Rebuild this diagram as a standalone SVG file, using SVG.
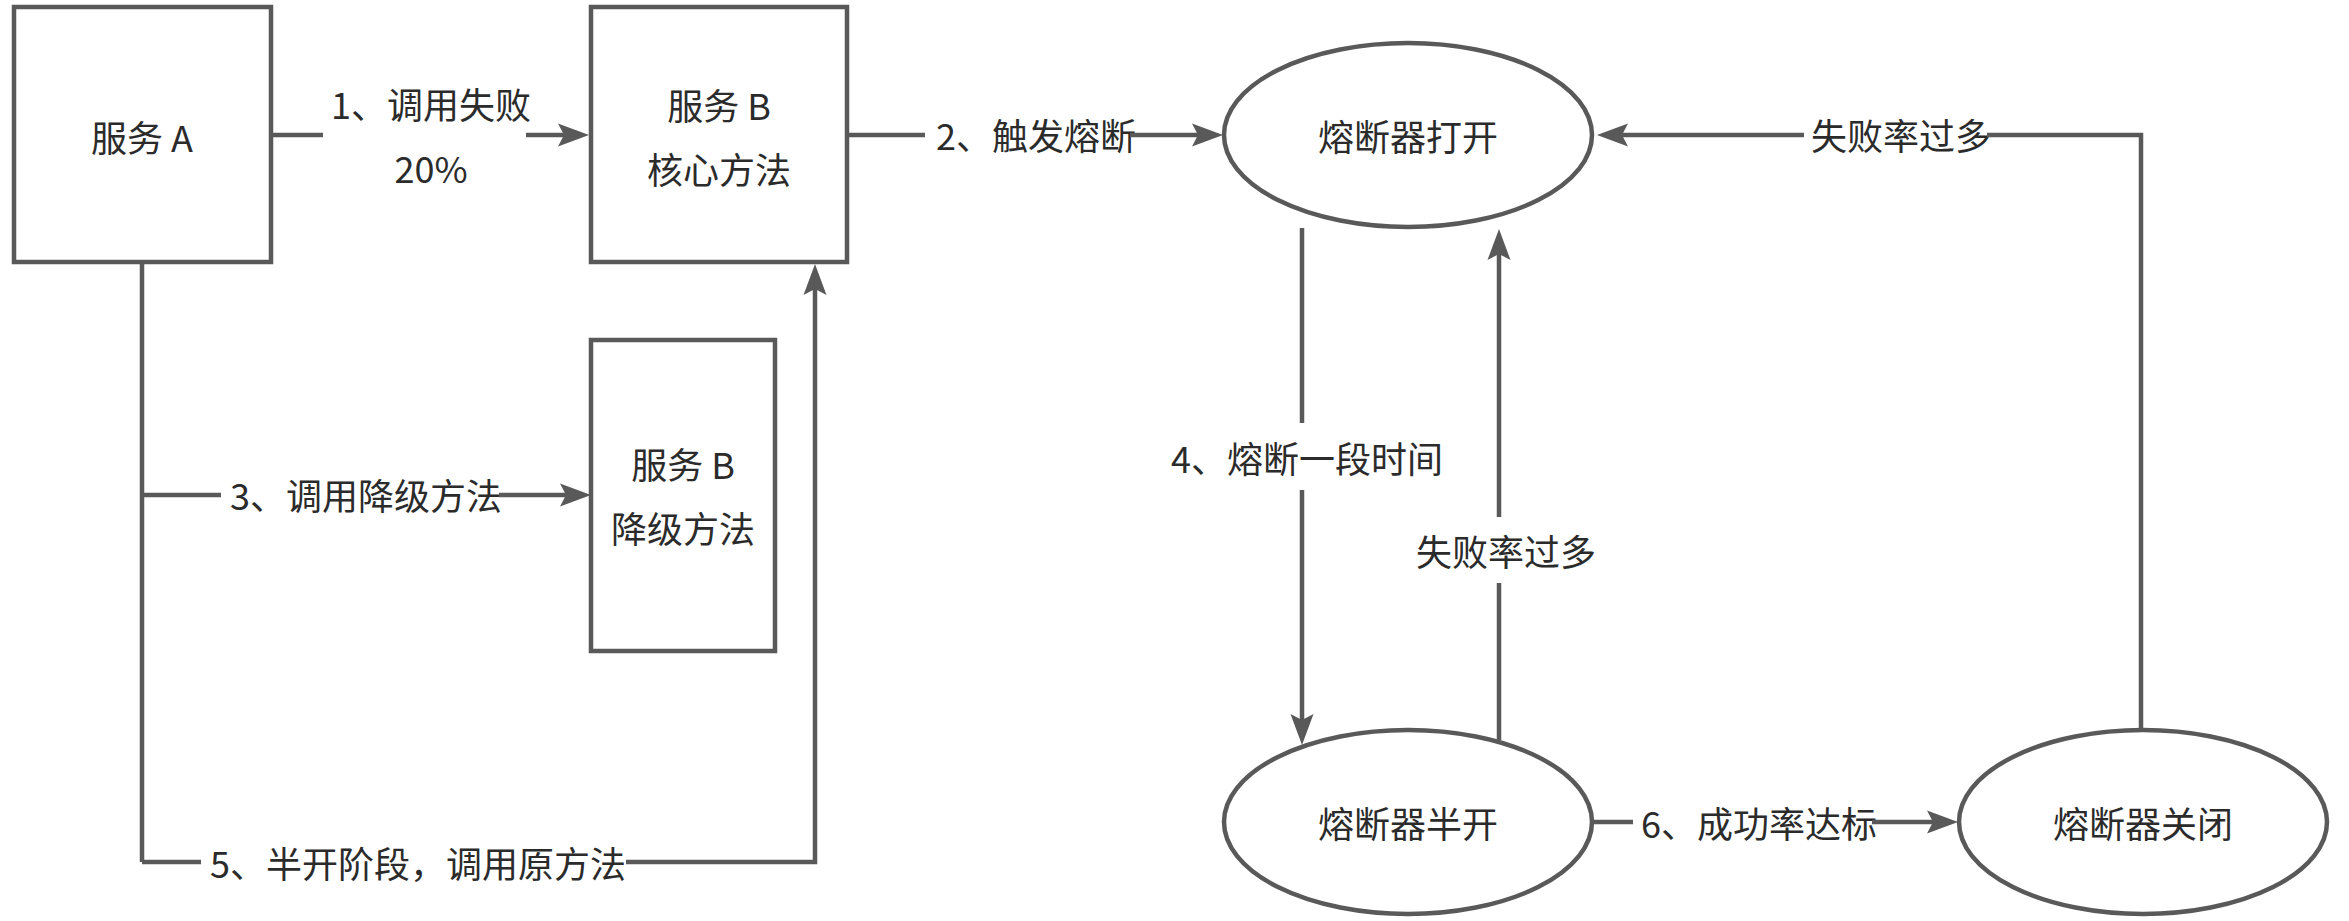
<svg xmlns="http://www.w3.org/2000/svg" width="2349" height="921" viewBox="0 0 2349 921">
<style>
.box{fill:#fff;stroke:#595959;stroke-width:4.5}
.ln{fill:none;stroke:#595959;stroke-width:4.5}
.ah{fill:#595959;stroke:none}
text{font-family:"Noto Sans CJK SC","Microsoft YaHei",sans-serif;font-size:36px;fill:#2b2b2b;text-anchor:middle;dominant-baseline:central}
</style>
<defs>
<path id="arr" d="M0,0 L-31,-11.5 L-25,0 L-31,11.5 Z"/>
</defs>
<rect width="2349" height="921" fill="#fff"/>
<g id="serviceA">
<rect class="box" x="14" y="7" width="257" height="255"/>
<text x="142" y="136">服务 A</text>
</g>
<g id="serviceB-core">
<rect class="box" x="591" y="7" width="256" height="255"/>
<text x="719" y="104">服务 B</text>
<text x="719" y="168">核心方法</text>
</g>
<g id="serviceB-fallback">
<rect class="box" x="591" y="340" width="184" height="311"/>
<text x="683" y="463">服务 B</text>
<text x="683" y="527">降级方法</text>
</g>
<g id="breaker-open">
<ellipse class="box" cx="1408" cy="135" rx="184" ry="92"/>
<text x="1408" y="135">熔断器打开</text>
</g>
<g id="breaker-half">
<ellipse class="box" cx="1408" cy="822" rx="184" ry="92"/>
<text x="1408" y="822">熔断器半开</text>
</g>
<g id="breaker-closed">
<ellipse class="box" cx="2143" cy="822" rx="184" ry="92"/>
<text x="2143" y="822">熔断器关闭</text>
</g>
<g id="connectors">
<!-- 1 -->
<text x="431" y="103">1、调用失败</text>
<text x="431" y="167">20%</text>
<path class="ln" d="M271,135 H323 M526,135 H565"/>
<use href="#arr" class="ah" transform="translate(589,135)"/>
<!-- 2 -->
<text x="1036" y="134">2、触发熔断</text>
<path class="ln" d="M847,135 H925 M1130,135 H1198"/>
<use href="#arr" class="ah" transform="translate(1223,135)"/>
<!-- 3 -->
<path class="ln" d="M142,262 V862 M142,495 H221"/>
<text x="366" y="494">3、调用降级方法</text>
<path class="ln" d="M499,495 H567"/>
<use href="#arr" class="ah" transform="translate(591,495)"/>
<!-- 5 -->
<path class="ln" d="M142,862 H201"/>
<text x="418" y="862">5、半开阶段，调用原方法</text>
<path class="ln" d="M626,862 H815 V288"/>
<use href="#arr" class="ah" transform="translate(815,264) rotate(-90)"/>
<!-- 4 -->
<text x="1307" y="457">4、熔断一段时间</text>
<path class="ln" d="M1302,228 V423 M1302,490 V721"/>
<use href="#arr" class="ah" transform="translate(1302,745) rotate(90)"/>
<!-- fail up -->
<text x="1506" y="550">失败率过多</text>
<path class="ln" d="M1499,740 V583 M1499,517 V253"/>
<use href="#arr" class="ah" transform="translate(1499,229) rotate(-90)"/>
<!-- fail top -->
<text x="1901" y="134">失败率过多</text>
<path class="ln" d="M2141,731 V135 H1987 M1804,135 H1621"/>
<use href="#arr" class="ah" transform="translate(1597,135) rotate(180)"/>
<!-- 6 -->
<text x="1759" y="822">6、成功率达标</text>
<path class="ln" d="M1593,822 H1633 M1872,822 H1933"/>
<use href="#arr" class="ah" transform="translate(1958,822)"/>
</g>
</svg>
